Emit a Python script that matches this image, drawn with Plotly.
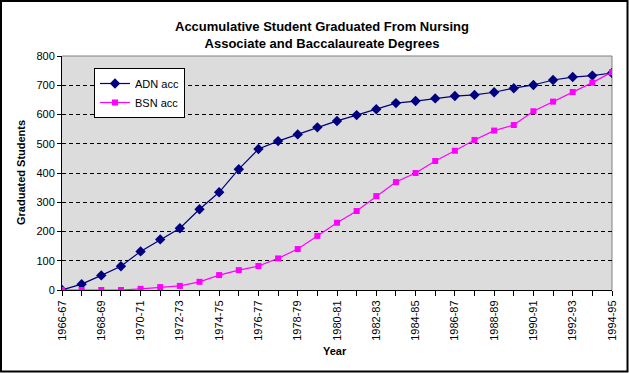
import plotly.graph_objects as go

years = ["1966-67","1967-68","1968-69","1969-70","1970-71","1971-72","1972-73","1973-74",
         "1974-75","1975-76","1976-77","1977-78","1978-79","1979-80","1980-81","1981-82",
         "1982-83","1983-84","1984-85","1985-86","1986-87","1987-88","1988-89","1989-90",
         "1990-91","1991-92","1992-93","1993-94","1994-95"]
adn_acc = [0, 20, 50, 81, 132, 173, 211, 276, 334, 413, 482, 509, 532, 556, 578, 598,
           618, 639, 646, 655, 663, 667, 676, 690, 701, 718, 728, 733, 742]
bsn_acc = [0, 0, 0, 0, 4, 10, 14, 28, 51, 68, 82, 108, 140, 185, 230, 270,
           321, 369, 400, 441, 476, 513, 545, 564, 611, 644, 677, 709, 745]
tick_text = [y if i % 2 == 0 else "" for i, y in enumerate(years)]
y_ticks = list(range(0, 801, 100))

FONT = "Arial, Liberation Sans, sans-serif"
W, H = 629, 373
L, R, T, B = 62, 17, 56, 83
PW, PH = W - L - R, H - T - B

fig = go.Figure()
fig.add_trace(go.Scatter(
    x=years, y=adn_acc, name="ADN acc", mode="lines+markers",
    line=dict(color="#000080", width=1.2),
    marker=dict(symbol="diamond", size=8, color="#000080"),
))
fig.add_trace(go.Scatter(
    x=years, y=bsn_acc, name="BSN acc", mode="lines+markers",
    line=dict(color="#FF00FF", width=1.2),
    marker=dict(symbol="square", size=6, color="#FF00FF"),
))

def px_x(px):
    return (px - L) / PW

def px_y(py):
    return (H - B - py) / PH

shapes = [
    dict(type="line", xref="paper", yref="paper", x0=0, x1=1, y0=1, y1=1,
         line=dict(color="#808080", width=1), layer="between"),
    dict(type="line", xref="paper", yref="paper", x0=1, x1=1, y0=0, y1=1,
         line=dict(color="#808080", width=1), layer="between"),
    dict(type="rect", xref="paper", yref="paper",
         x0=px_x(1), x1=px_x(627.5), y0=px_y(371.5), y1=px_y(1),
         line=dict(color="black", width=2), fillcolor="rgba(0,0,0,0)"),
]

fig.update_layout(
    width=W, height=H,
    margin=dict(l=L, r=R, t=T, b=B),
    paper_bgcolor="white",
    plot_bgcolor="#DCDCDC",
    font=dict(family=FONT, size=11, color="black"),
    showlegend=True,
    legend=dict(
        x=px_x(94), y=px_y(68), xanchor="left", yanchor="top",
        bgcolor="white", bordercolor="black", borderwidth=1,
        font=dict(family=FONT, size=11, color="black"),
        tracegroupgap=0, itemwidth=30,
    ),
    shapes=shapes,
    annotations=[
        dict(text="<b>Accumulative Student Graduated From Nursing<br>Associate and Baccalaureate Degrees</b>",
             xref="paper", yref="paper", x=px_x(322), y=px_y(34.5),
             xanchor="center", yanchor="middle", showarrow=False,
             font=dict(family=FONT, size=13, color="black")),
        dict(text="<b>Graduated Students</b>", textangle=-90,
             xref="paper", yref="paper", x=px_x(21), y=px_y(173),
             xanchor="center", yanchor="middle", showarrow=False,
             font=dict(family=FONT, size=11, color="black")),
        dict(text="<b>Year</b>",
             xref="paper", yref="paper", x=px_x(335), y=px_y(351),
             xanchor="center", yanchor="middle", showarrow=False,
             font=dict(family=FONT, size=11, color="black")),
    ],
)

fig.update_xaxes(
    type="category", range=[0, len(years) - 1],
    tickmode="array", tickvals=years, ticktext=tick_text,
    tickangle=-90, ticks="outside", ticklen=5, tickcolor="black",
    showline=True, linecolor="black", linewidth=1,
    showgrid=False, zeroline=False,
    tickfont=dict(family=FONT, size=11, color="black"),
)
fig.update_yaxes(
    range=[0, 800], tickmode="array", tickvals=y_ticks,
    ticks="outside", ticklen=4, tickcolor="black",
    showline=True, linecolor="black", linewidth=1,
    showgrid=True, gridcolor="black", gridwidth=1, griddash="4px,3px",
    zeroline=False,
    tickfont=dict(family=FONT, size=11, color="black"),
)

fig.write_html("out.html",
               config={"displayModeBar": False},
               post_script="document.body.style.margin='0';document.body.style.overflow='hidden';")
